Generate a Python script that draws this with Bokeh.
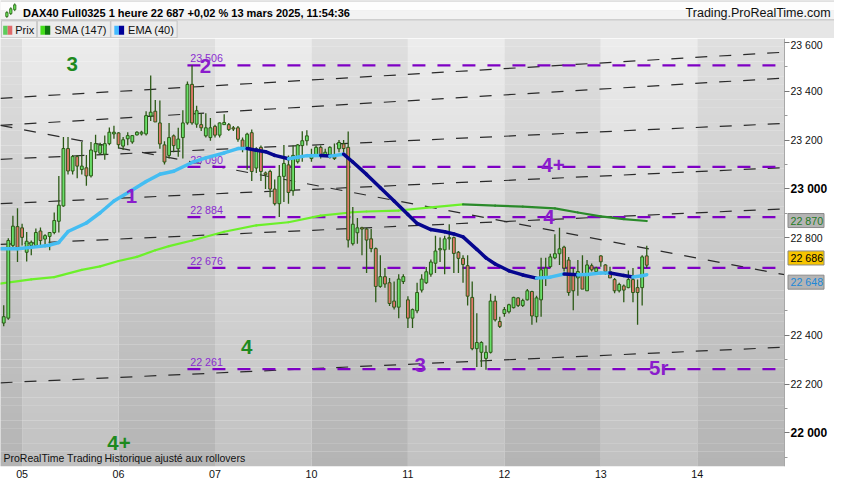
import numpy as np
from bokeh.plotting import figure
from bokeh.models import Range1d, FixedTicker
from bokeh.layouts import column
from bokeh.embed import file_html
from bokeh.resources import INLINE
from bokeh.core.properties import value

# ------------------------------------------------------------------ data
first_bar = 17
opens = [22450, 22470, 22768, 22845, 22840, 22740, 22768, 22768, 22827, 22794, 22805, 22821, 22867, 22930,
         23165, 23073, 23132, 23079, 23086, 23053, 23152, 23146, 23142, 23185, 23225, 23229, 23175, 23205,
         23192, 23221, 23225, 23225, 23298, 23318, 23270, 23180, 23137, 23217, 23164, 23210, 23270, 23428,
         23265, 23263, 23217, 23210, 23256, 23220, 23263, 23263, 23250, 23250, 23200, 23164, 23230, 23085,
         23170, 23065, 23071, 22999, 22939, 23051, 23098, 22992, 23111, 23177, 23197, 23124, 23140, 23170,
         23140, 23131, 23131, 23164, 23184, 23170, 22775, 22820, 22840, 22835, 22795, 22755, 22600, 22640,
         22615, 22540, 22515, 22620, 22545, 22470, 22500, 22585, 22615, 22650, 22695, 22750, 22750, 22795,
         22800, 22740, 22715, 22685, 22555, 22345, 22330, 22305, 22330, 22540, 22456, 22489, 22496, 22513,
         22553, 22522, 22545, 22579, 22476, 22545, 22635, 22681, 22717, 22734, 22761, 22708, 22648, 22635,
         22648, 22582, 22685, 22661, 22725, 22688, 22661, 22628, 22582, 22602, 22595, 22628, 22595, 22595,
         22725]
highs = [22523, 22797, 22890, 22920, 22857, 22823, 22788, 22837, 22841, 22814, 22823, 22903, 23053, 23212,
         23212, 23139, 23139, 23192, 23139, 23192, 23222, 23189, 23218, 23251, 23258, 23232, 23212, 23232,
         23221, 23236, 23238, 23318, 23464, 23364, 23362, 23195, 23270, 23223, 23250, 23322, 23440, 23506,
         23340, 23310, 23310, 23290, 23263, 23272, 23306, 23270, 23257, 23257, 23210, 23230, 23243, 23170,
         23177, 23071, 23078, 23038, 23098, 23180, 23137, 23177, 23184, 23236, 23240, 23164, 23177, 23177,
         23164, 23174, 23186, 23200, 23200, 23235, 22925, 22880, 22845, 22840, 22835, 22760, 22728, 22675,
         22635, 22620, 22650, 22650, 22560, 22510, 22615, 22650, 22680, 22710, 22808, 22800, 22808, 22855,
         22805, 22745, 22728, 22728, 22620, 22490, 22375, 22358, 22570, 22562, 22476, 22516, 22529, 22558,
         22556, 22549, 22589, 22582, 22562, 22717, 22717, 22734, 22814, 22840, 22767, 22721, 22675, 22708,
         22728, 22708, 22694, 22681, 22728, 22691, 22681, 22635, 22615, 22608, 22665, 22675, 22628, 22728,
         22767]
lows = [22437, 22463, 22755, 22700, 22768, 22702, 22728, 22761, 22768, 22761, 22748, 22814, 22821, 22927,
        23059, 23059, 23043, 23059, 23013, 23046, 23122, 23139, 23119, 23179, 23205, 23165, 23159, 23179,
        23185, 23218, 23218, 23218, 23278, 23274, 23164, 23100, 23124, 23150, 23131, 23124, 23263, 23263,
        23250, 23237, 23210, 23197, 23210, 23210, 23263, 23237, 23237, 23193, 23150, 23078, 23032, 23065,
        23032, 22999, 22965, 22932, 22884, 22946, 22939, 22972, 23104, 23111, 23177, 23111, 23131, 23124,
        23131, 23124, 23118, 23150, 23150, 22760, 22768, 22775, 22728, 22655, 22740, 22535, 22595, 22595,
        22520, 22505, 22470, 22610, 22430, 22430, 22490, 22575, 22610, 22640, 22655, 22700, 22650, 22750,
        22655, 22655, 22615, 22522, 22338, 22270, 22270, 22258, 22325, 22456, 22430, 22476, 22489, 22509,
        22516, 22516, 22542, 22443, 22452, 22476, 22602, 22675, 22711, 22688, 22661, 22562, 22502, 22562,
        22589, 22582, 22661, 22655, 22681, 22648, 22635, 22572, 22575, 22535, 22592, 22535, 22443, 22522,
        22675]
closes = [22476, 22788, 22847, 22760, 22801, 22785, 22781, 22821, 22788, 22808, 22821, 22870, 22933, 23165,
          23073, 23132, 23093, 23093, 23053, 23159, 23185, 23179, 23185, 23232, 23232, 23181, 23201, 23218,
          23218, 23232, 23232, 23300, 23314, 23274, 23184, 23110, 23210, 23177, 23204, 23270, 23428, 23270,
          23320, 23250, 23250, 23250, 23220, 23270, 23272, 23243, 23245, 23203, 23170, 23224, 23071, 23164,
          23071, 23058, 22999, 22939, 23051, 23104, 22985, 23137, 23180, 23197, 23217, 23140, 23170, 23140,
          23150, 23170, 23124, 23190, 23165, 22790, 22855, 22840, 22835, 22790, 22755, 22600, 22640, 22610,
          22530, 22515, 22630, 22640, 22470, 22505, 22575, 22630, 22660, 22700, 22745, 22755, 22795, 22800,
          22735, 22715, 22690, 22560, 22345, 22370, 22370, 22330, 22540, 22463, 22436, 22505, 22525, 22555,
          22522, 22542, 22582, 22479, 22553, 22668, 22675, 22721, 22734, 22754, 22675, 22575, 22582, 22661,
          22589, 22688, 22668, 22675, 22701, 22661, 22635, 22582, 22608, 22585, 22628, 22575, 22575, 22721,
          22687]

ema_bar = [16, 20, 23, 27, 29, 31, 35, 38, 41, 45, 48, 51, 54, 58, 61, 65, 68, 70, 72, 74, 76, 79, 81, 83,
           86, 88, 91, 93, 96, 99, 102, 105, 107, 110, 113, 115, 117, 120, 122, 124, 127, 130, 133, 136, 139,
           142, 144, 147, 149, 152, 154, 156, 157]
ema_val = [22754, 22754, 22760, 22769, 22780, 22825, 22860, 22902, 22950, 22995, 23030, 23060, 23072, 23108,
           23127, 23147, 23165, 23165, 23158, 23152, 23137, 23123, 23129, 23136, 23137, 23134, 23142, 23110,
           23059, 23004, 22950, 22895, 22858, 22833, 22824, 22815, 22803, 22752, 22717, 22692, 22664, 22647,
           22634, 22638, 22651, 22648, 22649, 22655, 22655, 22645, 22639, 22644, 22648]

sma_bar = [16, 23, 28, 34, 38, 42, 46, 50, 53, 58, 65, 72, 79, 86, 93, 96, 103, 110, 117, 124, 130, 137, 142,
           147, 152, 157]
sma_val = [22611, 22629, 22638, 22668, 22682, 22704, 22721, 22748, 22765, 22788, 22824, 22850, 22863, 22890,
           22904, 22907, 22911, 22924, 22936, 22931, 22927, 22920, 22903, 22887, 22876, 22868]

levels = [23506, 23090, 22884, 22676, 22261]
level_from_bar = 57

chan_left = [23371, 23260, 23121, 22939, 22772, 22205, 23260]
chan_right = [23560, 23454, 23268, 23087, 22918, 22351, 22648]

day_labels = ["04", "05", "06", "07", "10", "11", "12", "13", "14"]
day_start = [0, 21, 42, 63, 84, 105, 126, 147, 168]

note_text = ["3", "2", "1", "4+", "4", "4", "3", "5r", "4+"]
note_bar = [31.9, 60.9, 44.8, 136.6, 135.7, 69.9, 107.7, 159.6, 42.1]
note_price = [23511, 23504, 22972, 23097, 22883, 22352, 22278, 22268, 21960]
note_green = [True, False, False, False, False, True, False, False, True]

y_major = [23600, 23400, 23200, 23000, 22800, 22400, 22200, 22000]
y_minor = [23500, 23300, 23100, 22900, 22500, 22300, 22100, 21900]
y_bold = [23000, 22000]

sma_last, close_last, ema_last = 22870, 22686, 22648

title_text = "DAX40 Full0325 1 heure 22 687 +0,02 % 13 mars 2025, 11:54:36"

# ------------------------------------------------------------------ geometry / style
W = 834
HDR_H = 38
MAIN_H = 446
FRAME_W = 784          # width of the price panel (the axis zone lies to its right)
FONT = "Liberation Sans"
XL, XR = 16.30, 186.99
YB, YT = 21862, 23616
PX_PER_BAR = FRAME_W / (XR - XL)
XR2 = XL + W / PX_PER_BAR


def fmt(v):
    return f"{v:,}".replace(",", " ")


# ------------------------------------------------------------------ header figure
hdr = figure(width=W, height=HDR_H, x_range=Range1d(0, 850), y_range=Range1d(39.3, 0),
             toolbar_location=None, output_backend="svg", min_border=0)
hdr.axis.visible = False
hdr.grid.visible = False
hdr.outline_line_color = None
hdr.background_fill_color = "#e6e6e6"
hdr.border_fill_color = "#e6e6e6"

hdr.quad(left=[0], right=[850], top=[0], bottom=[10], fill_color="#fdfdfd", line_color=None)
hdr.quad(left=[0], right=[850], top=[10], bottom=[20], fill_color="#f3f3f3", line_color=None)
hdr.segment(x0=[0, 0], y0=[0.5, 20], x1=[850, 850], y1=[0.5, 20], line_color="#bfbfbf", line_width=1)
hdr.quad(left=[1, 37.5, 112.5], right=[37, 112, 180], top=[21, 21, 21], bottom=[38.5, 38.5, 38.5],
         fill_color="#ececec", line_color="#c4c4c4", line_width=1)
sq_l = [2.7, 7.3, 40.7, 45.3, 116, 120.7]
sq_r = [7.3, 12, 45.3, 50.7, 120.7, 126]
sq_c = ["#5ccc5c", "#e06a6a", "#44e01a", "#0e760e", "#44bbff", "#000099"]
hdr.quad(left=sq_l, right=sq_r, top=[26] * 6, bottom=[35.3] * 6, fill_color=sq_c, line_color=None)
hdr.text(x=[15, 55, 130], y=[30.6] * 3, text=["Prix", "SMA (147)", "EMA (40)"],
         text_font=value(FONT), text_font_size="11px", text_baseline="middle", text_color="#111111")
# small candle icon
hdr.segment(x0=[6.5, 10.5, 14.5], y0=[11, 7, 3], x1=[6.5, 10.5, 14.5], y1=[18, 15, 11],
            line_color="#2d6a1a", line_width=1)
hdr.quad(left=[5.3, 9.3, 13.3], right=[7.7, 11.7, 15.7], top=[12.5, 8.5, 4.5], bottom=[16.5, 13.5, 9.5],
         fill_color="#66dd55", line_color="#2d6a1a", line_width=0.8)
hdr.text(x=[23], y=[12.8], text=[title_text], text_font=value(FONT), text_font_style="bold",
         text_font_size="11px", text_baseline="middle", text_color="#000000")
hdr.text(x=[846], y=[12.8], text=["Trading.ProRealTime.com"], text_font=value(FONT),
         text_font_size="12.5px", text_baseline="middle", text_align="right", text_color="#111111")

# ------------------------------------------------------------------ main figure
p = figure(width=W, height=MAIN_H, x_range=Range1d(XL, XR2), y_range=Range1d(YB, YT),
           toolbar_location=None, output_backend="svg", y_axis_location="right",
           min_border_left=0, min_border_top=0, min_border_right=0, min_border_bottom=18)
p.grid.visible = False
p.outline_line_color = None
p.border_fill_color = "white"
p.background_fill_color = "white"

# day bands with vertical gradient
N = 56
bl, br, bt, bb, bc = [], [], [], [], []
dy = (YT - YB) / N
for d, start in enumerate(day_start):
    end = day_start[d + 1] if d + 1 < len(day_start) else XR
    end = min(end, XR)
    dark = d % 2 == 0
    for k in range(N):
        t = (k + 0.5) / N
        g = int(round((223 if dark else 236) - 43 * t))
        bl.append(start)
        br.append(end)
        bt.append(YT - k * dy)
        bb.append(YT - (k + 1) * dy - 0.5)
        bc.append(f"#{g:02x}{g:02x}{g:02x}")
p.quad(left=bl, right=br, top=bt, bottom=bb, fill_color=bc, line_color=None)

# channel lines (black dashed)
p.segment(x0=[XL] * len(chan_left), y0=chan_left, x1=[XR] * len(chan_right), y1=chan_right,
          line_color="#2a2a2a", line_width=1.2, line_dash="12 12")

# horizontal levels (purple dashed)
p.segment(x0=[level_from_bar] * len(levels), y0=levels, x1=[XR] * len(levels), y1=levels,
          line_color="#7e00c4", line_width=2.3, line_dash="13 12")
p.text(x=[level_from_bar + 0.6] * len(levels), y=levels, text=[fmt(v) for v in levels],
       text_font=value(FONT), text_font_size="10.7px", text_baseline="bottom", y_offset=-1,
       text_color="#8a2cd0")

# SMA line (coloured by direction)
sc = ["#6cf02a" if sma_val[k + 1] >= sma_val[k] else "#2a8a2a" for k in range(len(sma_val) - 1)]
p.segment(x0=sma_bar[:-1], y0=sma_val[:-1], x1=sma_bar[1:], y1=sma_val[1:], line_color=sc,
          line_width=2.2, line_cap="round")

# candles
xs = list(range(first_bar, first_bar + len(closes)))
up = [c >= o for o, c in zip(opens, closes)]
p.segment(x0=xs, y0=lows, x1=xs, y1=highs, line_color="#2c5a16", line_width=1.3)
p.vbar(x=xs, width=0.62, top=[max(o, c) for o, c in zip(opens, closes)],
       bottom=[min(o, c) for o, c in zip(opens, closes)],
       fill_color=["#6ae06a" if u else "#e0786a" for u in up], line_color="#2c5a16", line_width=1)

# EMA line (coloured by direction)
ec = ["#44bdf2" if ema_val[k + 1] >= ema_val[k] else "#06068f" for k in range(len(ema_val) - 1)]
p.segment(x0=ema_bar[:-1], y0=ema_val[:-1], x1=ema_bar[1:], y1=ema_val[1:], line_color=ec,
          line_width=3.5, line_cap="round")

# wave labels
p.text(x=note_bar, y=note_price, text=note_text, text_font=value(FONT), text_font_style="bold",
       text_font_size="20.5px", text_align="center", text_baseline="middle",
       text_color=["#1e8a1e" if g else "#8a1ccc" for g in note_green])

# footer text
p.text(x=[XL + 3 / PX_PER_BAR, XL + 104 / PX_PER_BAR], y=[YB, YB],
       text=["ProRealTime Trading", "Historique ajusté aux rollovers"], text_font=value(FONT),
       text_font_size="10.5px", text_baseline="bottom", y_offset=-3, text_color="#111111")

# price axis, drawn at the right edge of the price panel
p.yaxis.fixed_location = XR
p.yaxis.ticker = FixedTicker(ticks=y_major, minor_ticks=y_minor)
p.yaxis.major_label_overrides = {v: ("" if v in y_bold else fmt(v)) for v in y_major}
p.yaxis.major_label_text_font = FONT
p.yaxis.major_label_text_font_size = "10.5px"
p.yaxis.major_label_text_color = "#111111"
p.yaxis.major_tick_out = 5
p.yaxis.major_tick_in = 0
p.yaxis.minor_tick_out = 3
p.yaxis.minor_tick_in = 0
p.yaxis.major_label_standoff = 1
p.yaxis.axis_line_color = "#a8a8a8"
p.yaxis.major_tick_line_color = "#777777"
p.yaxis.minor_tick_line_color = "#999999"

# time axis
p.xaxis.ticker = FixedTicker(ticks=day_start[1:])
p.xaxis.major_label_overrides = {s: l for s, l in zip(day_start[1:], day_labels[1:])}
p.xaxis.major_label_text_font = FONT
p.xaxis.major_label_text_font_size = "10.7px"
p.xaxis.major_label_text_color = "#111111"
p.xaxis.major_tick_out = 0
p.xaxis.major_tick_in = 0
p.xaxis.minor_tick_out = 0
p.xaxis.major_label_standoff = 3
p.xaxis.axis_line_color = None

lab_x = XR + 6 / PX_PER_BAR
p.text(x=[lab_x] * len(y_bold), y=y_bold, text=[fmt(v) for v in y_bold], text_font=value(FONT),
       text_font_style="bold", text_font_size="12px", text_baseline="middle", text_color="#000000")

# last-value tags, spread apart when too close
tag_vals = [sma_last, close_last, ema_last]
tag_text_col = ["#1f7a1f", "#000000", "#2088d8"]
tag_fill = ["#b4b4b4", "#f6c400", "#b4b4b4"]
min_gap = 25 * (YT - YB) / 428 * 0.968
pos = list(tag_vals)
for k in range(len(pos) - 1):
    gap = pos[k] - pos[k + 1]
    if gap < min_gap:
        shift = (min_gap - gap) / 2
        pos[k] += shift
        pos[k + 1] -= shift
p.rect(x=[XR + 21.5 / PX_PER_BAR] * 3, y=pos, width=36, height=14, width_units="screen",
       height_units="screen", fill_color=tag_fill, line_color="#8a8a8a", line_width=1)
p.text(x=[XR + 6 / PX_PER_BAR] * 3, y=pos, text=[fmt(v) for v in tag_vals], text_font=value(FONT),
       text_font_size="10.7px", text_baseline="middle", text_color=tag_text_col)

layout = column(hdr, p, spacing=0)
open("out.html", "w").write(file_html(layout, INLINE, title="DAX40"))
